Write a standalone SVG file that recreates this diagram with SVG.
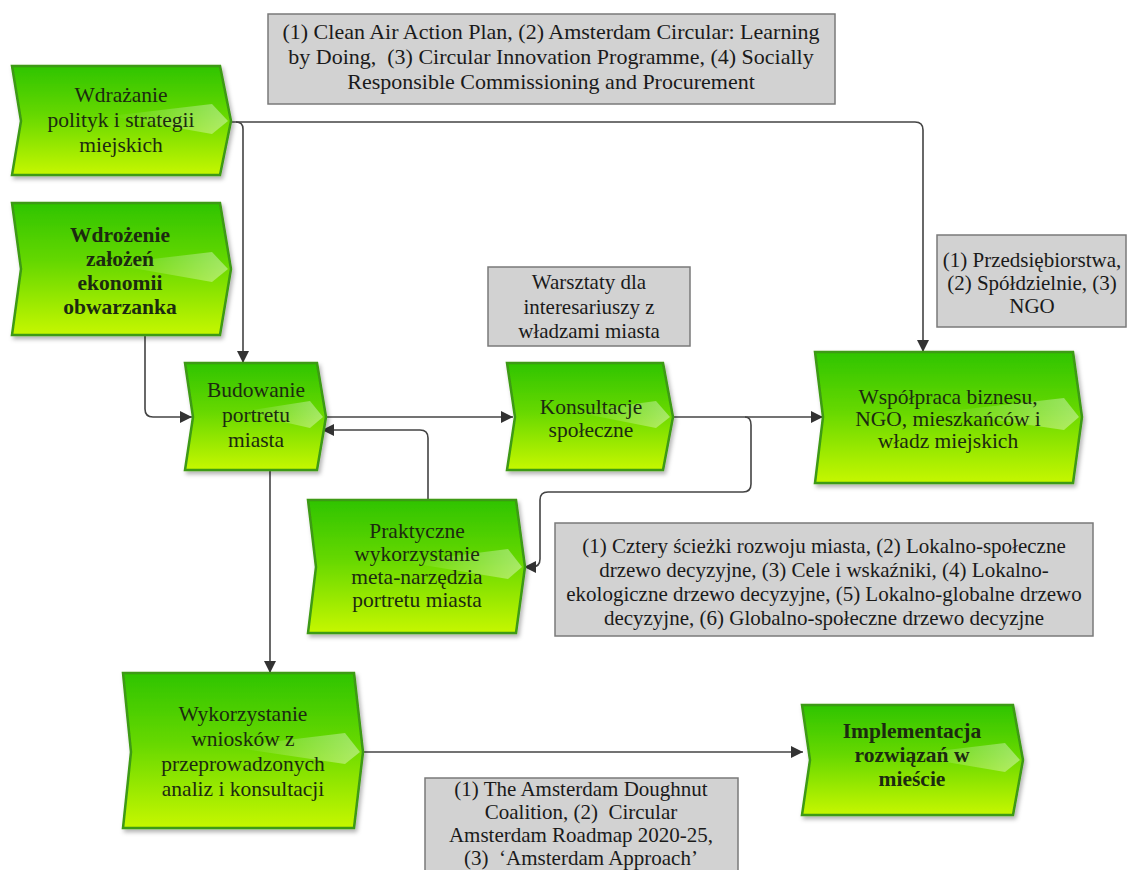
<svg xmlns="http://www.w3.org/2000/svg" width="1128" height="870" viewBox="0 0 1128 870">
<defs>
<linearGradient id="gfill" x1="0" y1="0" x2="0" y2="1">
<stop offset="0" stop-color="#2fc400"/>
<stop offset="0.45" stop-color="#66d800"/>
<stop offset="1" stop-color="#c6f700"/>
</linearGradient>
<linearGradient id="gloss" x1="0" y1="0" x2="1" y2="0">
<stop offset="0" stop-color="#ffffff" stop-opacity="0"/>
<stop offset="1" stop-color="#ffffff" stop-opacity="0.4"/>
</linearGradient>
<filter id="sh" x="-5%" y="-5%" width="115%" height="120%">
<feDropShadow dx="2" dy="3" stdDeviation="2" flood-color="#000" flood-opacity="0.3"/>
</filter>
<marker id="ah" markerWidth="14" markerHeight="14" refX="12" refY="6" orient="auto" markerUnits="userSpaceOnUse">
<path d="M0,0 L12,6 L0,12 Z" fill="#333"/>
</marker>
</defs>
<style>
.node{fill:url(#gfill);stroke:#3d9a12;stroke-width:2.5;filter:url(#sh)}
.gl{fill:url(#gloss)}
.nt{font-family:'Liberation Serif','DejaVu Serif',serif;font-size:21.5px;fill:#1c2a10;text-anchor:middle}
.b{font-weight:bold}
.note{fill:#d2d2d2;stroke:#7a7a7a;stroke-width:1.5}
.tt{font-family:'Liberation Serif','DejaVu Serif',serif;font-size:21px;fill:#1a1a1a;text-anchor:middle;white-space:pre}
.big{font-size:22px}
.c{fill:none;stroke:#444;stroke-width:1.6}
</style>
<rect width="1128" height="870" fill="#ffffff"/>

<g id="connectors">
<path class="c" d="M232,122 H915 Q923,122 923,130 V352" marker-end="url(#ah)"/>
<path class="c" d="M236,122 Q243,122 243,129 V363" marker-end="url(#ah)"/>
<path class="c" d="M145,335 V409 Q145,417 153,417 H192" marker-end="url(#ah)"/>
<path class="c" d="M326,417 H513" marker-end="url(#ah)"/>
<path class="c" d="M428,500 V438 Q428,430 420,430 H322" marker-end="url(#ah)"/>
<path class="c" d="M673,417 H823" marker-end="url(#ah)"/>
<path class="c" d="M745,417 Q751,417 751,425 V484 Q751,492 743,492 H548 Q540,492 540,500 V559 Q540,567 532,567 H524" marker-end="url(#ah)"/>
<path class="c" d="M270,470 V673" marker-end="url(#ah)"/>
<path class="c" d="M362,752 H803" marker-end="url(#ah)"/>
</g>

<g id="note-top">
<rect class="note" x="268" y="14" width="567" height="90"/>
<text class="tt big" x="551" y="39">(1) Clean Air Action Plan, (2) Amsterdam Circular: Learning</text>
<text class="tt big" x="551" y="64">by Doing,  (3) Circular Innovation Programme, (4) Socially</text>
<text class="tt big" x="551" y="89">Responsible Commissioning and Procurement</text>
</g>

<g id="n-wdrazanie">
<path class="node" d="M12,66 H220 L231,121 L220,175 H12 L21,121 Z"/>
<path class="gl" d="M110,116 L212,104 L228,121 L212,134 Z"/>
<text class="nt" x="121" y="102">Wdrażanie</text>
<text class="nt" x="121" y="127">polityk i strategii</text>
<text class="nt" x="121" y="152">miejskich</text>
</g>

<g id="n-wdrozenie">
<path class="node" d="M12,203 H220 L231,269 L220,335 H12 L21,269 Z"/>
<path class="gl" d="M110,264 L212,252 L228,269 L212,282 Z"/>
<text class="nt b" x="120" y="242">Wdrożenie</text>
<text class="nt b" x="120" y="266">założeń</text>
<text class="nt b" x="120" y="290">ekonomii</text>
<text class="nt b" x="120" y="314">obwarzanka</text>
</g>

<g id="n-budowanie">
<path class="node" d="M185,363 H317 L326,417 L317,470 H185 L193,417 Z"/>
<path class="gl" d="M240,412 L310,401 L323,417 L310,428 Z"/>
<text class="nt" x="256" y="397">Budowanie</text>
<text class="nt" x="256" y="422">portretu</text>
<text class="nt" x="256" y="447">miasta</text>
</g>

<g id="note-warsztaty">
<rect class="note" x="488" y="267" width="202" height="79"/>
<text class="tt" x="589" y="289">Warsztaty dla</text>
<text class="tt" x="589" y="314">interesariuszy z</text>
<text class="tt" x="589" y="338">władzami miasta</text>
</g>

<g id="n-konsultacje">
<path class="node" d="M507,363 H663 L673,417 L663,470 H507 L515,417 Z"/>
<path class="gl" d="M575,412 L656,401 L670,417 L656,428 Z"/>
<text class="nt" x="591" y="414">Konsultacje</text>
<text class="nt" x="591" y="437">społeczne</text>
</g>

<g id="note-przeds">
<rect class="note" x="937" y="235" width="189" height="92"/>
<text class="tt" x="1032" y="267">(1) Przedsiębiorstwa,</text>
<text class="tt" x="1032" y="290">(2) Spółdzielnie, (3)</text>
<text class="tt" x="1032" y="313">NGO</text>
</g>

<g id="n-wspolpraca">
<path class="node" d="M815,352 H1073 L1082,417 L1073,483 H815 L823,417 Z"/>
<path class="gl" d="M940,412 L1064,398 L1079,417 L1064,430 Z"/>
<text class="nt" x="948" y="404">Współpraca biznesu,</text>
<text class="nt" x="948" y="426">NGO, mieszkańców i</text>
<text class="nt" x="948" y="448">władz miejskich</text>
</g>

<g id="n-praktyczne">
<path class="node" d="M308,500 H516 L525,567 L516,633 H308 L316,567 Z"/>
<path class="gl" d="M405,562 L508,549 L522,567 L508,579 Z"/>
<text class="nt" x="417" y="538">Praktyczne</text>
<text class="nt" x="417" y="561">wykorzystanie</text>
<text class="nt" x="417" y="584">meta-narzędzia</text>
<text class="nt" x="417" y="607">portretu miasta</text>
</g>

<g id="note-cztery">
<rect class="note" x="555" y="523" width="538" height="113"/>
<text class="tt" x="824" y="553">(1) Cztery ścieżki rozwoju miasta, (2) Lokalno-społeczne</text>
<text class="tt" x="824" y="577">drzewo decyzyjne, (3) Cele i wskaźniki, (4) Lokalno-</text>
<text class="tt" x="824" y="601">ekologiczne drzewo decyzyjne, (5) Lokalno-globalne drzewo</text>
<text class="tt" x="824" y="625">decyzyjne, (6) Globalno-społeczne drzewo decyzjne</text>
</g>

<g id="n-wykorzystanie">
<path class="node" d="M123,673 H354 L363,752 L354,828 H123 L131,752 Z"/>
<path class="gl" d="M230,747 L345,733 L360,752 L345,764 Z"/>
<text class="nt" x="243" y="721">Wykorzystanie</text>
<text class="nt" x="243" y="746">wniosków z</text>
<text class="nt" x="243" y="771">przeprowadzonych</text>
<text class="nt" x="243" y="796">analiz i konsultacji</text>
</g>

<g id="n-implementacja">
<path class="node" d="M802,705 H1013 L1023,760 L1013,815 H802 L810,760 Z"/>
<path class="gl" d="M905,755 L1005,743 L1020,760 L1005,772 Z"/>
<text class="nt b" x="912" y="738">Implementacja</text>
<text class="nt b" x="912" y="762">rozwiązań w</text>
<text class="nt b" x="912" y="786">mieście</text>
</g>

<g id="note-bottom">
<rect class="note" x="425" y="778" width="313" height="100"/>
<text class="tt" x="581" y="796">(1) The Amsterdam Doughnut</text>
<text class="tt" x="581" y="819">Coalition, (2)  Circular</text>
<text class="tt" x="581" y="842">Amsterdam Roadmap 2020-25,</text>
<text class="tt" x="581" y="865">(3)  ‘Amsterdam Approach’</text>
</g>
</svg>
